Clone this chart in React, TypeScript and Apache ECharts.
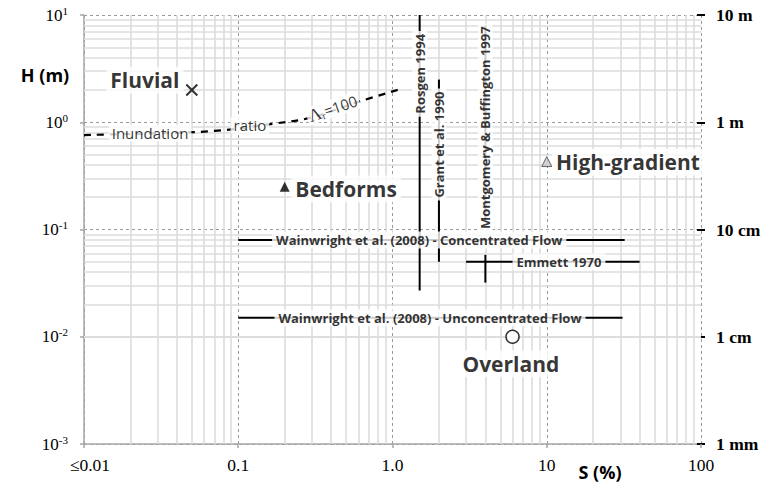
import React, { useEffect, useRef } from 'react';
import * as echarts from 'echarts';

// Axis tick labels
const xTickLabels = ['≤0.01', '0.1', '1.0', '10', '100'];
const rightTickLabels = ['1 mm', '1 cm', '10 cm', '1 m', '10 m'];
// Minor grid (log decades × 2..9)
const minorMultipliers = [2, 3, 4, 5, 6, 7, 8, 9];
const xDecades = [0.01, 0.1, 1, 10];
const yDecades = [0.001, 0.01, 0.1, 1];

// Inundation ratio curve (Λr = 100)
const inundationS = [0.01, 0.03, 0.07, 0.17, 0.3, 0.6, 1.17];
const inundationH = [0.76, 0.79, 0.83, 0.97, 1.11, 1.55, 2.07];
const inundationLabels = ['Inundation', 'ratio', 'Λr=100'];
const inundationLabelS = [0.0268, 0.119, 0.41];
const inundationLabelH = [0.79, 0.94, 1.35];

// Flow regimes
const regimeNames = ['Fluvial', 'Bedforms', 'High-gradient', 'Overland'];
const regimeS = [0.05, 0.2, 10, 6];
const regimeH = [2, 0.25, 0.43, 0.01];
const regimeLabelS = [0.0248, 0.5, 33.6, 5.85];
const regimeLabelH = [2.46, 0.238, 0.424, 0.0056];

// Vertical reference ranges (slope thresholds)
const vertNames = ['Rosgen 1994', 'Grant et al. 1990', 'Montgomery & Buffington 1997'];
const vertS = [1.5, 2, 4];
const vertHTop = [10, 2.5, 8];
const vertHBottom = [0.027, 0.05, 0.12];
const vertLabelH = [2.83, 0.62, 0.89];

// Horizontal reference ranges (depths)
const horizNames = [
  'Wainwright et al. (2008) - Concentrated Flow',
  'Emmett 1970',
  'Wainwright et al. (2008) - Unconcentrated Flow',
];
const horizH = [0.08, 0.05, 0.015];
const horizSLeft = [0.1, 3, 0.1];
const horizSRight = [32, 40, 31];
const horizLabelS = [1.49, 12, 1.75];

// Emmett 1970 depth range at S = 4 %
const emmettS = 4;
const emmettH = [0.058, 0.032];

const SANS = '"Open Sans", "Noto Sans", sans-serif';
const SERIF = '"Liberation Serif", "DejaVu Serif", serif';

function expOf(v: number) {
  return Math.round(Math.log10(v));
}

export default function App() {
  const ref = useRef<HTMLDivElement>(null);

  useEffect(() => {
    if (!ref.current) return;
    const chart = echarts.init(ref.current, undefined, { renderer: 'svg' });

    const minorX: number[] = [];
    xDecades.forEach((d) => minorMultipliers.forEach((m) => minorX.push(d * m)));
    const minorY: number[] = [];
    yDecades.forEach((d) => minorMultipliers.forEach((m) => minorY.push(d * m)));

    const series: any[] = [];

    // minor grid
    series.push({
      type: 'line',
      z: 1,
      silent: true,
      data: [[0.01, 0.001]],
      symbol: 'none',
      lineStyle: { opacity: 0 },
      markLine: {
        z: 1,
        silent: true,
        symbol: 'none',
        label: { show: false },
        animation: false,
        lineStyle: { color: '#dcdcdc', width: 1.6, type: 'solid' },
        data: [
          ...minorX.map((v) => ({ xAxis: v })),
          ...minorY.map((v) => ({ yAxis: v })),
        ],
      },
    });

    // inundation curve
    series.push({
      type: 'line',
      z: 4,
      smooth: 0.4,
      symbol: 'none',
      lineStyle: { color: '#000', width: 2.2, type: [7, 6] },
      data: inundationS.map((s, i) => [s, inundationH[i]]),
    });

    // vertical ranges
    vertNames.forEach((n, i) => {
      series.push({
        type: 'line',
        z: 4,
        symbol: 'none',
        lineStyle: { color: '#000', width: 2 },
        data: [
          [vertS[i], vertHTop[i]],
          [vertS[i], vertHBottom[i]],
        ],
      });
    });
    // horizontal ranges
    horizNames.forEach((n, i) => {
      series.push({
        type: 'line',
        z: 4,
        symbol: 'none',
        lineStyle: { color: '#000', width: 2 },
        data: [
          [horizSLeft[i], horizH[i]],
          [horizSRight[i], horizH[i]],
        ],
      });
    });
    series.push({
      type: 'line',
      z: 4,
      symbol: 'none',
      lineStyle: { color: '#000', width: 2 },
      data: [
        [emmettS, emmettH[0]],
        [emmettS, emmettH[1]],
      ],
    });

    // regime markers
    const regimeStyles: any[] = [
      {
        symbol: 'path://M0,0L10,10M10,0L0,10',
        symbolSize: 11,
        itemStyle: { color: 'rgba(0,0,0,0)', borderColor: '#000', borderWidth: 2 },
      },
      { symbol: 'triangle', symbolSize: 10, itemStyle: { color: '#000' } },
      {
        symbol: 'triangle',
        symbolSize: 10,
        itemStyle: { color: '#c8c8c8', borderColor: '#444', borderWidth: 1 },
      },
      {
        symbol: 'circle',
        symbolSize: 13,
        itemStyle: { color: '#fff', borderColor: '#000', borderWidth: 1.5 },
      },
    ];
    series.push({
      type: 'scatter',
      z: 6,
      data: regimeNames.map((n, i) => ({
        name: n,
        value: [regimeS[i], regimeH[i]],
        ...regimeStyles[i],
      })),
    });

    // annotation labels
    const labelBase = {
      show: true,
      position: 'inside',
      formatter: '{b}',
      color: '#000',
      backgroundColor: '#fff',
      fontFamily: SANS,
    };
    const annotations: any[] = [];
    regimeNames.forEach((n, i) =>
      annotations.push({
        name: n,
        value: [regimeLabelS[i], regimeLabelH[i]],
        label: { ...labelBase, fontSize: 21, fontWeight: 'bold', padding: [3, 4] },
      })
    );
    vertNames.forEach((n, i) =>
      annotations.push({
        name: n,
        value: [vertS[i], vertLabelH[i]],
        label: { ...labelBase, fontSize: 13, fontWeight: 'bold', rotate: 90, padding: [1, 3] },
      })
    );
    horizNames.forEach((n, i) =>
      annotations.push({
        name: n,
        value: [horizLabelS[i], horizH[i]],
        label: { ...labelBase, fontSize: 13, fontWeight: 'bold', padding: [2, 4] },
      })
    );
    inundationLabels.forEach((n, i) => {
      const isLambda = i === 2;
      annotations.push({
        name: n,
        value: [inundationLabelS[i], inundationLabelH[i]],
        label: isLambda
          ? {
              ...labelBase,
              rotate: 19,
              padding: [0, 2],
              formatter: '{g|Λ}{r|r}{t|=100}',
              rich: {
                g: { fontFamily: SERIF, fontSize: 18, color: '#000', lineHeight: 18 },
                r: { fontFamily: SERIF, fontSize: 10, color: '#000', verticalAlign: 'bottom', lineHeight: 18 },
                t: { fontFamily: SANS, fontSize: 15, color: '#000', lineHeight: 18 },
              },
            }
          : { ...labelBase, fontSize: 15, padding: [1, 3] },
      });
    });
    series.push({
      type: 'scatter',
      z: 10,
      symbolSize: 0,
      silent: true,
      data: annotations,
    });

    const option: any = {
      animation: false,
      backgroundColor: '#fff',
      grid: { left: 84, right: 64, top: 15, bottom: 40, containLabel: false },
      xAxis: {
        type: 'log',
        logBase: 10,
        min: 0.01,
        max: 100,
        axisLine: { show: true, lineStyle: { color: '#a6a6a6', width: 1.5 } },
        axisTick: { show: true, length: 4, lineStyle: { color: '#a6a6a6', width: 1.5 } },
        axisLabel: {
          margin: 12,
          fontFamily: SERIF,
          fontSize: 17.5,
          color: '#000',
          formatter: (v: number) => {
            const e = expOf(v);
            return e === -2 ? `{f|${xTickLabels[0]}}` : xTickLabels[e + 2];
          },
          rich: {
            f: { fontFamily: SERIF, fontSize: 17.5, color: '#000', padding: [0, 0, 0, 12] },
          },
        },
        splitLine: { show: true, lineStyle: { color: '#999', width: 1, type: [3, 3] } },
      },
      yAxis: [
        {
          type: 'log',
          logBase: 10,
          min: 0.001,
          max: 10,
          axisLine: { show: true, lineStyle: { color: '#a6a6a6', width: 1.5 } },
          axisTick: { show: true, length: 4, lineStyle: { color: '#a6a6a6', width: 1.5 } },
          axisLabel: {
            margin: 16,
            formatter: (v: number) => `{b|10}{s|${expOf(v)}}`,
            rich: {
              b: { fontFamily: SERIF, fontSize: 17, color: '#000', lineHeight: 20 },
              s: { fontFamily: SERIF, fontSize: 11, color: '#000', verticalAlign: 'top', lineHeight: 12 },
            },
          },
          splitLine: { show: true, lineStyle: { color: '#999', width: 1, type: [3, 3] } },
        },
        {
          type: 'log',
          logBase: 10,
          min: 0.001,
          max: 10,
          position: 'right',
          axisLine: { show: false },
          axisTick: { show: true, length: 4, lineStyle: { color: '#000', width: 2 } },
          axisLabel: {
            margin: 15,
            fontFamily: SERIF,
            fontWeight: 'bold',
            fontSize: 17.5,
            color: '#000',
            formatter: (v: number) => rightTickLabels[expOf(v) + 3],
          },
          splitLine: { show: false },
        },
        {
          type: 'log',
          logBase: 10,
          min: 0.001,
          max: 10,
          position: 'right',
          axisLine: { show: false },
          axisTick: { show: true, inside: true, length: 4, lineStyle: { color: '#000', width: 2 } },
          axisLabel: { show: false },
          splitLine: { show: false },
        },
      ],
      graphic: [
        {
          type: 'text',
          x: 45,
          y: 75,
          style: {
            text: 'H (m)',
            font: `bold 18px ${SANS}`,
            fill: '#000',
            align: 'center',
            verticalAlign: 'middle',
          },
        },
        {
          type: 'text',
          x: 600,
          y: 472,
          style: {
            text: 'S (%)',
            font: `bold 18px ${SANS}`,
            fill: '#000',
            align: 'center',
            verticalAlign: 'middle',
          },
        },
      ],
      series,
    };

    chart.setOption(option);
    return () => chart.dispose();
  }, []);

  return (
    <div
      ref={ref}
      style={{ position: 'absolute', left: 0, top: 0, width: 765, height: 484 }}
    />
  );
}
